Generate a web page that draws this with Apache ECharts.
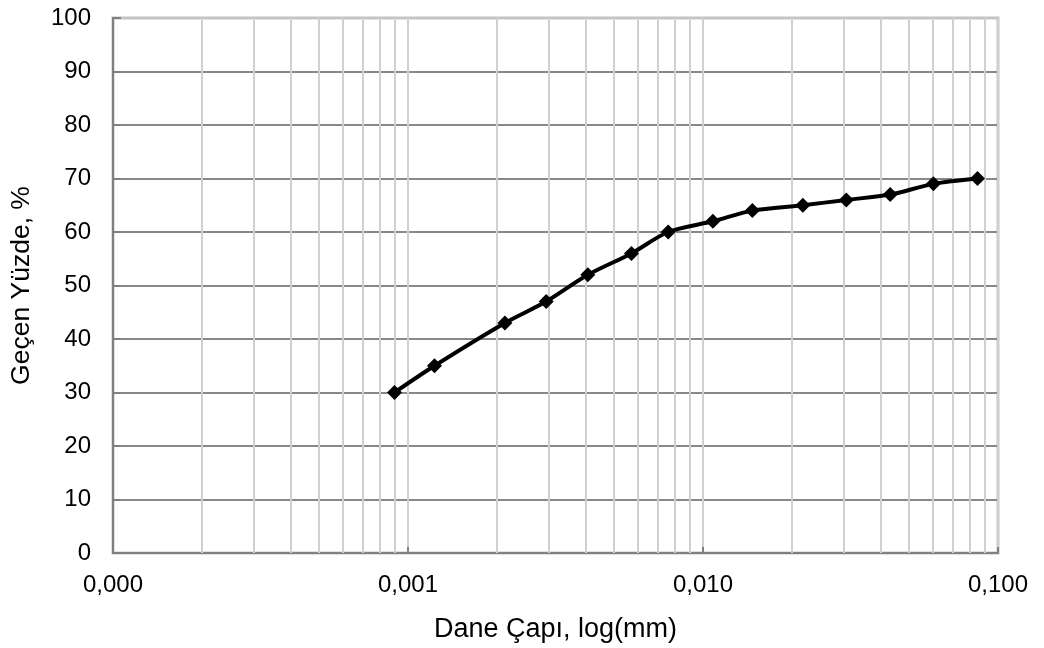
<!DOCTYPE html>
<html>
<head>
<meta charset="utf-8">
<script src="https://cdn.jsdelivr.net/npm/echarts@6/dist/echarts.min.js"></script>
<style>
  html, body { margin: 0; padding: 0; background: #fff; }
  #main { width: 1044px; height: 648px; }
</style>
</head>
<body>
<div id="main"></div>
<script>
// grain diameter (mm) and passing percentage
var diameters = [0.0009, 0.00123, 0.00213, 0.00294, 0.00407, 0.00572, 0.00762, 0.0108, 0.0147, 0.0218, 0.0306, 0.0431, 0.0604, 0.0852];
var passing = [30, 35, 43, 47, 52, 56, 60, 62, 64, 65, 66, 67, 69, 70];

// minor log grid lines (2..9 in each decade)
var minorTicks = [
  0.0002, 0.0003, 0.0004, 0.0005, 0.0006, 0.0007, 0.0008, 0.0009,
  0.002, 0.003, 0.004, 0.005, 0.006, 0.007, 0.008, 0.009,
  0.02, 0.03, 0.04, 0.05, 0.06, 0.07, 0.08, 0.09
];

var chart = echarts.init(document.getElementById("main"));

var font = "Liberation Sans, Arial, sans-serif";

// last horizontal line (100) sits on the light frame, so keep it light
var hLineColors = [];
for (var i = 0; i < 10; i++) hLineColors.push("#888888");
hLineColors.push("#c4c4c4");

var option = {
  animation: false,
  grid: {
    left: 112, right: 46, top: 18, bottom: 90,
    show: true,
    borderColor: "#c4c4c4",
    borderWidth: 3,
    backgroundColor: "#fff"
  },
  xAxis: {
    type: "log",
    logBase: 10,
    min: 0.0001,
    max: 0.1,
    name: "Dane Çapı, log(mm)",
    nameLocation: "middle",
    nameGap: 63,
    nameTextStyle: { fontFamily: font, fontSize: 27, color: "#000" },
    axisLine: { lineStyle: { color: "#808080", width: 2 } },
    axisTick: { inside: true, length: 6, lineStyle: { color: "#808080", width: 2 } },
    axisLabel: {
      fontFamily: font, fontSize: 24, color: "#000", margin: 20,
      formatter: function (v) { return v.toFixed(3).replace(".", ","); }
    },
    splitLine: { show: true, lineStyle: { color: "#d0d0d0", width: 2 } }
  },
  yAxis: {
    type: "value",
    min: 0,
    max: 100,
    interval: 10,
    name: "Geçen Yüzde, %",
    nameLocation: "middle",
    nameGap: 78,
    nameTextStyle: { fontFamily: font, fontSize: 26.5, color: "#000" },
    axisLine: { show: true, lineStyle: { color: "#808080", width: 2 } },
    axisTick: { show: true, inside: true, length: 8, lineStyle: { color: "#808080", width: 2 } },
    axisLabel: { fontFamily: font, fontSize: 24, color: "#000", margin: 22 },
    splitLine: { show: true, lineStyle: { color: hLineColors, width: 2 } }
  },
  series: [
    {
      type: "line",
      data: [],
      z: 1,
      silent: true,
      markLine: {
        silent: true,
        precision: 6,
        symbol: "none",
        label: { show: false },
        lineStyle: { color: "#d0d0d0", width: 2, type: "solid" },
        data: minorTicks.map(function (v) { return { xAxis: v }; })
      }
    },
    {
      type: "line",
      z: 5,
      data: diameters.map(function (d, i) { return [d, passing[i]]; }),
      smooth: 0.3,
      symbol: "diamond",
      symbolSize: 15,
      itemStyle: { color: "#000" },
      lineStyle: { color: "#000", width: 4 }
    }
  ]
};

chart.setOption(option);
</script>
</body>
</html>
